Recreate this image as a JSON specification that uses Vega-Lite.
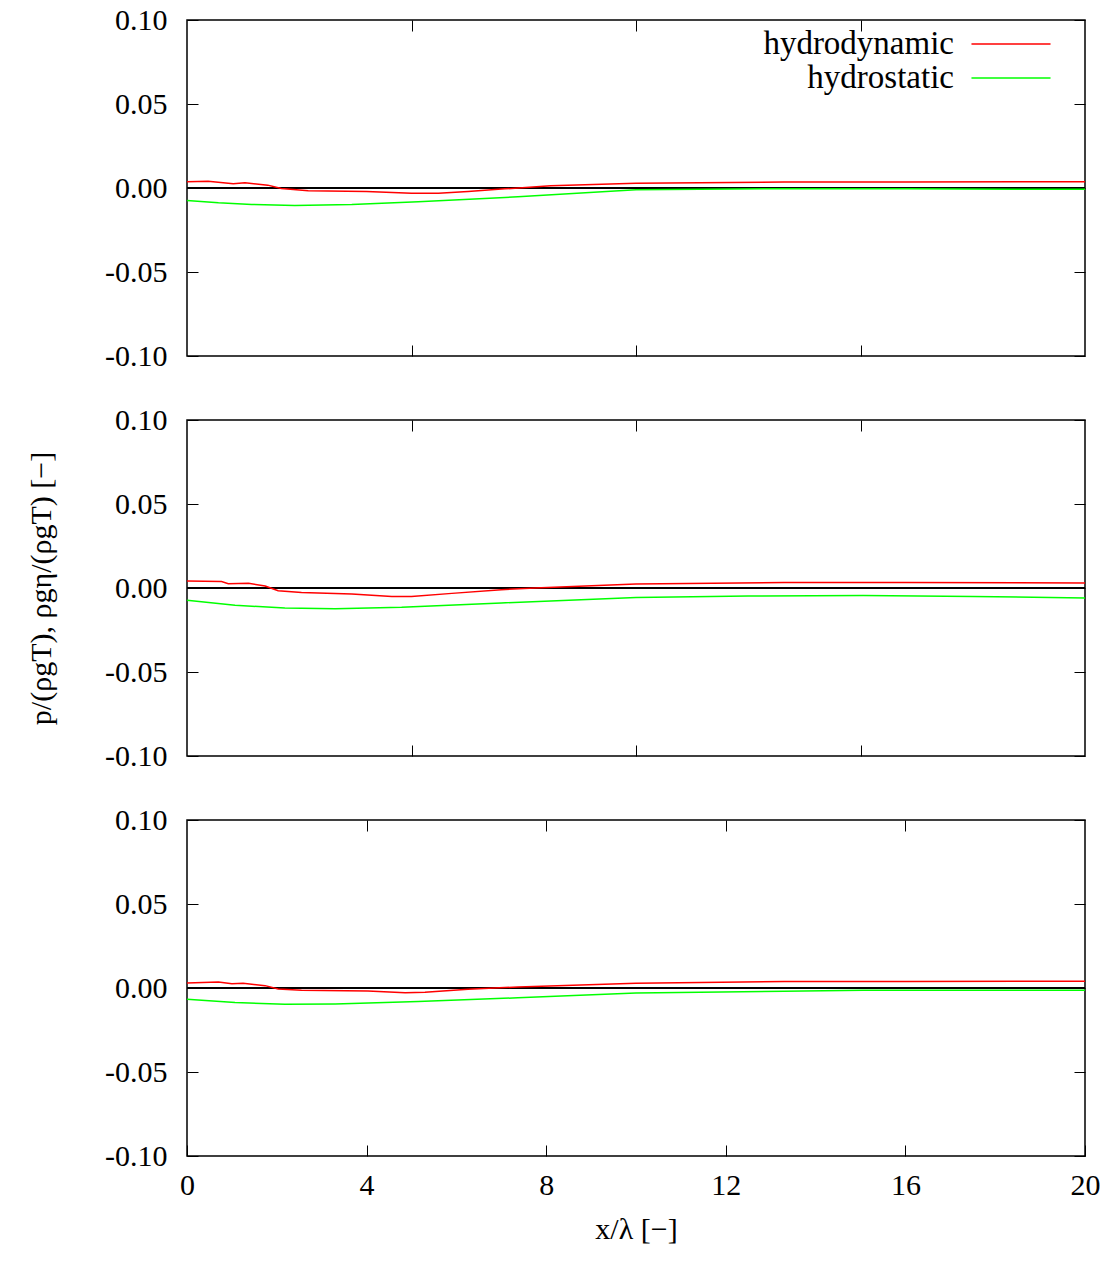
{
  "$schema": "https://vega.github.io/schema/vega-lite/v6.json",
  "padding": {"left": 25, "top": 4, "right": 5, "bottom": 5},
  "background": "white",
  "config": {
    "font": "Liberation Serif",
    "view": {"stroke": "#000", "strokeWidth": 1.5},
    "axis": {"grid": false, "domain": false, "tickColor": "#000", "tickSize": -11, "tickWidth": 1,
      "labelFont": "Liberation Serif", "labelFontSize": 30, "labelColor": "#000", "labelPadding": 31,
      "titleFont": "Liberation Serif", "titleFontSize": 30, "titleColor": "#000", "titleFontWeight": "normal"},
    "concat": {"spacing": 32}
  },
  "datasets": {
    "d": [
      {"panel": 1, "series": "hydrodynamic", "x": 0, "p": 0.0037},
      {"panel": 1, "series": "hydrodynamic", "x": 0.47, "p": 0.0040},
      {"panel": 1, "series": "hydrodynamic", "x": 1.03, "p": 0.0025},
      {"panel": 1, "series": "hydrodynamic", "x": 1.29, "p": 0.0031},
      {"panel": 1, "series": "hydrodynamic", "x": 1.8, "p": 0.0017},
      {"panel": 1, "series": "hydrodynamic", "x": 2.1, "p": -0.0003},
      {"panel": 1, "series": "hydrodynamic", "x": 2.7, "p": -0.0017},
      {"panel": 1, "series": "hydrodynamic", "x": 4.0, "p": -0.0021},
      {"panel": 1, "series": "hydrodynamic", "x": 5.0, "p": -0.0031},
      {"panel": 1, "series": "hydrodynamic", "x": 5.6, "p": -0.0031},
      {"panel": 1, "series": "hydrodynamic", "x": 6.26, "p": -0.0021},
      {"panel": 1, "series": "hydrodynamic", "x": 7.08, "p": -0.0005},
      {"panel": 1, "series": "hydrodynamic", "x": 8.1, "p": 0.0013},
      {"panel": 1, "series": "hydrodynamic", "x": 10, "p": 0.0029},
      {"panel": 1, "series": "hydrodynamic", "x": 13.3, "p": 0.0035},
      {"panel": 1, "series": "hydrodynamic", "x": 16, "p": 0.0036},
      {"panel": 1, "series": "hydrodynamic", "x": 20, "p": 0.0037},
      {"panel": 1, "series": "hydrostatic", "x": 0, "p": -0.0074},
      {"panel": 1, "series": "hydrostatic", "x": 0.7, "p": -0.0088},
      {"panel": 1, "series": "hydrostatic", "x": 1.44, "p": -0.0098},
      {"panel": 1, "series": "hydrostatic", "x": 2.4, "p": -0.0104},
      {"panel": 1, "series": "hydrostatic", "x": 3.67, "p": -0.0098},
      {"panel": 1, "series": "hydrostatic", "x": 5.15, "p": -0.0082},
      {"panel": 1, "series": "hydrostatic", "x": 7.37, "p": -0.0052},
      {"panel": 1, "series": "hydrostatic", "x": 10, "p": -0.0011},
      {"panel": 1, "series": "hydrostatic", "x": 13.3, "p": -0.0004},
      {"panel": 1, "series": "hydrostatic", "x": 16, "p": -0.0005},
      {"panel": 1, "series": "hydrostatic", "x": 20, "p": -0.0008},
      {"panel": 2, "series": "hydrodynamic", "x": 0, "p": 0.0042},
      {"panel": 2, "series": "hydrodynamic", "x": 0.77, "p": 0.0038},
      {"panel": 2, "series": "hydrodynamic", "x": 0.92, "p": 0.0026},
      {"panel": 2, "series": "hydrodynamic", "x": 1.37, "p": 0.0028},
      {"panel": 2, "series": "hydrodynamic", "x": 1.74, "p": 0.0012},
      {"panel": 2, "series": "hydrodynamic", "x": 2.03, "p": -0.0016},
      {"panel": 2, "series": "hydrodynamic", "x": 2.55, "p": -0.0027},
      {"panel": 2, "series": "hydrodynamic", "x": 3.67, "p": -0.0036},
      {"panel": 2, "series": "hydrodynamic", "x": 4.56, "p": -0.0051},
      {"panel": 2, "series": "hydrodynamic", "x": 5.0, "p": -0.0050},
      {"panel": 2, "series": "hydrodynamic", "x": 5.9, "p": -0.0032},
      {"panel": 2, "series": "hydrodynamic", "x": 7.0, "p": -0.0010},
      {"panel": 2, "series": "hydrodynamic", "x": 7.75, "p": 0.0},
      {"panel": 2, "series": "hydrodynamic", "x": 10, "p": 0.0024},
      {"panel": 2, "series": "hydrodynamic", "x": 13.3, "p": 0.0032},
      {"panel": 2, "series": "hydrodynamic", "x": 16, "p": 0.0032},
      {"panel": 2, "series": "hydrodynamic", "x": 20, "p": 0.0030},
      {"panel": 2, "series": "hydrostatic", "x": 0, "p": -0.0073},
      {"panel": 2, "series": "hydrostatic", "x": 1.07, "p": -0.0103},
      {"panel": 2, "series": "hydrostatic", "x": 2.18, "p": -0.0119},
      {"panel": 2, "series": "hydrostatic", "x": 3.3, "p": -0.0123},
      {"panel": 2, "series": "hydrostatic", "x": 4.78, "p": -0.0115},
      {"panel": 2, "series": "hydrostatic", "x": 7.0, "p": -0.0089},
      {"panel": 2, "series": "hydrostatic", "x": 10, "p": -0.0057},
      {"panel": 2, "series": "hydrostatic", "x": 12.5, "p": -0.0048},
      {"panel": 2, "series": "hydrostatic", "x": 15.06, "p": -0.0045},
      {"panel": 2, "series": "hydrostatic", "x": 17.5, "p": -0.0050},
      {"panel": 2, "series": "hydrostatic", "x": 20, "p": -0.0059},
      {"panel": 3, "series": "hydrodynamic", "x": 0, "p": 0.0030},
      {"panel": 3, "series": "hydrodynamic", "x": 0.7, "p": 0.0036},
      {"panel": 3, "series": "hydrodynamic", "x": 1.0, "p": 0.0026},
      {"panel": 3, "series": "hydrodynamic", "x": 1.25, "p": 0.0028},
      {"panel": 3, "series": "hydrodynamic", "x": 1.74, "p": 0.0014},
      {"panel": 3, "series": "hydrodynamic", "x": 2.03, "p": -0.0006},
      {"panel": 3, "series": "hydrodynamic", "x": 2.55, "p": -0.0014},
      {"panel": 3, "series": "hydrodynamic", "x": 4.03, "p": -0.0018},
      {"panel": 3, "series": "hydrodynamic", "x": 4.86, "p": -0.0028},
      {"panel": 3, "series": "hydrodynamic", "x": 5.3, "p": -0.0026},
      {"panel": 3, "series": "hydrodynamic", "x": 6.26, "p": -0.0008},
      {"panel": 3, "series": "hydrodynamic", "x": 7.37, "p": 0.0006},
      {"panel": 3, "series": "hydrodynamic", "x": 10, "p": 0.0028},
      {"panel": 3, "series": "hydrodynamic", "x": 13.3, "p": 0.0038},
      {"panel": 3, "series": "hydrodynamic", "x": 16, "p": 0.0039},
      {"panel": 3, "series": "hydrodynamic", "x": 20, "p": 0.0040},
      {"panel": 3, "series": "hydrostatic", "x": 0, "p": -0.0067},
      {"panel": 3, "series": "hydrostatic", "x": 1.07, "p": -0.0087},
      {"panel": 3, "series": "hydrostatic", "x": 2.18, "p": -0.0097},
      {"panel": 3, "series": "hydrostatic", "x": 3.3, "p": -0.0095},
      {"panel": 3, "series": "hydrostatic", "x": 5.15, "p": -0.0081},
      {"panel": 3, "series": "hydrostatic", "x": 7.37, "p": -0.0058},
      {"panel": 3, "series": "hydrostatic", "x": 10, "p": -0.0030},
      {"panel": 3, "series": "hydrostatic", "x": 13.3, "p": -0.0020},
      {"panel": 3, "series": "hydrostatic", "x": 15.06, "p": -0.0014},
      {"panel": 3, "series": "hydrostatic", "x": 20, "p": -0.0014}
    ]
  },
  "resolve": {"legend": {"color": "independent"}},
  "vconcat": [
    {
      "width": 898, "height": 336,
      "data": {"name": "d"},
      "transform": [{"filter": "datum.panel == 1"}],
      "layer": [
        {"mark": {"type": "rule", "color": "#000", "strokeWidth": 1},
         "encoding": {"y": {"datum": 0, "type": "quantitative", "axis": null}}},
        {"transform": [{"filter": "datum.series == 'hydrodynamic'"}],
         "mark": {"type": "line", "strokeWidth": 1.5},
         "encoding": {
           "x": {"field": "x", "type": "quantitative", "scale": {"domain": [0, 20], "nice": false},
                 "axis": {"orient": "bottom", "values": [5, 10, 15], "labels": false, "title": null}},
           "y": {"field": "p", "type": "quantitative", "scale": {"domain": [-0.1, 0.1], "nice": false},
                 "axis": {"orient": "left", "values": [-0.1, -0.05, 0, 0.05, 0.1], "format": ".2f",
                          "labelExpr": "replace(datum.label, '−', '-')", "title": null}},
           "color": {"field": "series", "type": "nominal",
                     "scale": {"domain": ["hydrodynamic", "hydrostatic"], "range": ["#ff0000", "#00ff00"]},
                     "legend": {"orient": "none", "legendX": 807, "legendY": 7, "title": null,
                                "symbolType": "M-2.5,0H2.5", "symbolSize": 1000, "symbolStrokeWidth": 1.5,
                                "labelAlign": "right", "labelOffset": -74, "labelFontSize": 33,
                                "labelFont": "Liberation Serif", "labelColor": "#000", "labelLimit": 400,
                                "rowPadding": -9}}
         }},
        {"transform": [{"filter": "datum.series == 'hydrostatic'"}],
         "mark": {"type": "line", "strokeWidth": 1.5},
         "encoding": {
           "x": {"field": "x", "type": "quantitative", "scale": {"domain": [0, 20], "nice": false},
                 "axis": {"orient": "top", "values": [5, 10, 15], "labels": false, "title": null}},
           "y": {"field": "p", "type": "quantitative", "scale": {"domain": [-0.1, 0.1], "nice": false},
                 "axis": {"orient": "right", "values": [-0.1, -0.05, 0, 0.05, 0.1], "labels": false, "title": null}},
           "color": {"field": "series", "type": "nominal",
                     "scale": {"domain": ["hydrodynamic", "hydrostatic"], "range": ["#ff0000", "#00ff00"]},
                     "legend": {"orient": "none", "legendX": 807, "legendY": 7, "title": null,
                                "symbolType": "M-2.5,0H2.5", "symbolSize": 1000, "symbolStrokeWidth": 1.5,
                                "labelAlign": "right", "labelOffset": -74, "labelFontSize": 33,
                                "labelFont": "Liberation Serif", "labelColor": "#000", "labelLimit": 400,
                                "rowPadding": -9}}
         }}
      ]
    },
    {
      "width": 898, "height": 336,
      "data": {"name": "d"},
      "transform": [{"filter": "datum.panel == 2"}],
      "layer": [
        {"mark": {"type": "rule", "color": "#000", "strokeWidth": 1},
         "encoding": {"y": {"datum": 0, "type": "quantitative", "axis": null}}},
        {"transform": [{"filter": "datum.series == 'hydrodynamic'"}],
         "mark": {"type": "line", "strokeWidth": 1.5},
         "encoding": {
           "x": {"field": "x", "type": "quantitative", "scale": {"domain": [0, 20], "nice": false},
                 "axis": {"orient": "bottom", "values": [5, 10, 15], "labels": false, "title": null}},
           "y": {"field": "p", "type": "quantitative", "scale": {"domain": [-0.1, 0.1], "nice": false},
                 "axis": {"orient": "left", "values": [-0.1, -0.05, 0, 0.05, 0.1], "format": ".2f",
                          "labelExpr": "replace(datum.label, '−', '-')",
                          "title": "p/(ρgT), ρgη/(ρgT) [−]", "titlePadding": 48}},
           "color": {"field": "series", "type": "nominal",
                     "scale": {"domain": ["hydrodynamic", "hydrostatic"], "range": ["#ff0000", "#00ff00"]},
                     "legend": null}
         }},
        {"transform": [{"filter": "datum.series == 'hydrostatic'"}],
         "mark": {"type": "line", "strokeWidth": 1.5},
         "encoding": {
           "x": {"field": "x", "type": "quantitative", "scale": {"domain": [0, 20], "nice": false},
                 "axis": {"orient": "top", "values": [5, 10, 15], "labels": false, "title": null}},
           "y": {"field": "p", "type": "quantitative", "scale": {"domain": [-0.1, 0.1], "nice": false},
                 "axis": {"orient": "right", "values": [-0.1, -0.05, 0, 0.05, 0.1], "labels": false, "title": null}},
           "color": {"field": "series", "type": "nominal",
                     "scale": {"domain": ["hydrodynamic", "hydrostatic"], "range": ["#ff0000", "#00ff00"]},
                     "legend": null}
         }}
      ]
    },
    {
      "width": 898, "height": 336,
      "data": {"name": "d"},
      "transform": [{"filter": "datum.panel == 3"}],
      "layer": [
        {"mark": {"type": "rule", "color": "#000", "strokeWidth": 1},
         "encoding": {"y": {"datum": 0, "type": "quantitative", "axis": null}}},
        {"transform": [{"filter": "datum.series == 'hydrodynamic'"}],
         "mark": {"type": "line", "strokeWidth": 1.5},
         "encoding": {
           "x": {"field": "x", "type": "quantitative", "scale": {"domain": [0, 20], "nice": false},
                 "axis": {"orient": "bottom", "values": [0, 4, 8, 12, 16, 20], "format": "d", "labelFlush": false,
                          "labelPadding": 25, "title": "x/λ [−]", "titlePadding": 14}},
           "y": {"field": "p", "type": "quantitative", "scale": {"domain": [-0.1, 0.1], "nice": false},
                 "axis": {"orient": "left", "values": [-0.1, -0.05, 0, 0.05, 0.1], "format": ".2f",
                          "labelExpr": "replace(datum.label, '−', '-')", "title": null}},
           "color": {"field": "series", "type": "nominal",
                     "scale": {"domain": ["hydrodynamic", "hydrostatic"], "range": ["#ff0000", "#00ff00"]},
                     "legend": null}
         }},
        {"transform": [{"filter": "datum.series == 'hydrostatic'"}],
         "mark": {"type": "line", "strokeWidth": 1.5},
         "encoding": {
           "x": {"field": "x", "type": "quantitative", "scale": {"domain": [0, 20], "nice": false},
                 "axis": {"orient": "top", "values": [4, 8, 12, 16], "labels": false, "title": null}},
           "y": {"field": "p", "type": "quantitative", "scale": {"domain": [-0.1, 0.1], "nice": false},
                 "axis": {"orient": "right", "values": [-0.1, -0.05, 0, 0.05, 0.1], "labels": false, "title": null}},
           "color": {"field": "series", "type": "nominal",
                     "scale": {"domain": ["hydrodynamic", "hydrostatic"], "range": ["#ff0000", "#00ff00"]},
                     "legend": null}
         }}
      ]
    }
  ]
}
